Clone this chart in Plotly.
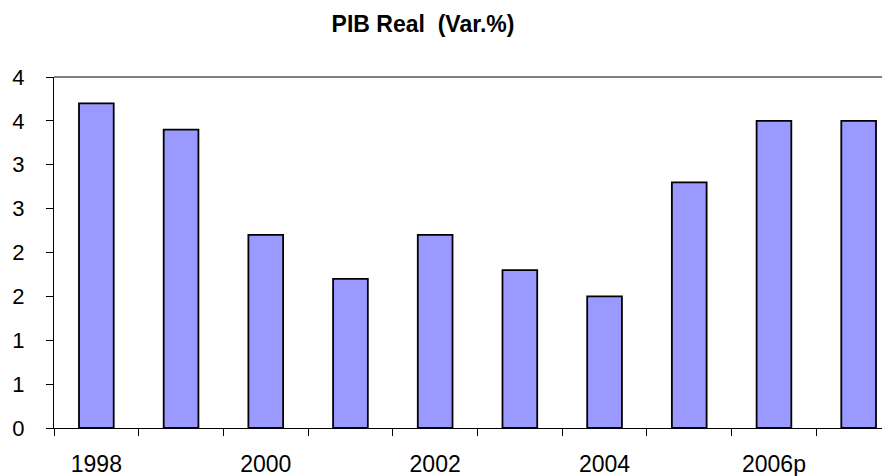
import plotly.graph_objects as go

categories = ["1998", "1999", "2000", "2001", "2002", "2003", "2004", "2005", "2006p", "2007p"]
values = [3.7, 3.4, 2.2, 1.7, 2.2, 1.8, 1.5, 2.8, 3.5, 3.5]
y_tickvals = [0, 0.5, 1, 1.5, 2, 2.5, 3, 3.5, 4]
y_ticktext = ["0", "1", "1", "2", "2", "3", "3", "4", "4"]
x_ticktext = [c if i % 2 == 0 else "" for i, c in enumerate(categories)]
title_text = "<b>PIB Real  (Var.%)</b>"

x_range = [-0.5, 9.37]

# page body has an 8px margin, so the figure is sized to the visible area
W, H = 882, 468

fig = go.Figure()
fig.add_trace(go.Bar(
    x=categories, y=values,
    marker=dict(color="#9999FF", line=dict(color="black", width=1.8)),
    width=0.41,
    showlegend=False,
))

font_family = "Liberation Sans, Arial, sans-serif"

fig.update_layout(
    width=W, height=H,
    margin=dict(l=46, r=0, t=69, b=48),
    paper_bgcolor="white", plot_bgcolor="white",
    font=dict(family=font_family, color="black", size=22),
    title=dict(text=title_text, font=dict(size=23, family=font_family, color="black"),
               x=415/W, xref="container", xanchor="center",
               y=1-16/H, yref="container", yanchor="middle"),
    xaxis=dict(
        type="category", categoryorder="array", categoryarray=categories,
        range=x_range, tickvals=categories, ticktext=x_ticktext,
        tickson="boundaries",
        ticks="outside", ticklen=7, tickcolor="black", tickwidth=1,
        showline=True, linecolor="black", linewidth=1,
        showgrid=False, zeroline=False, ticklabelstandoff=15,
        tickfont=dict(size=23), automargin=False,
    ),
    yaxis=dict(
        range=[0, 4], tickvals=y_tickvals, ticktext=y_ticktext,
        ticks="outside", ticklen=7, tickcolor="black", tickwidth=1,
        showline=True, linecolor="black", linewidth=1,
        showgrid=False, zeroline=False, ticklabelstandoff=17,
        tickfont=dict(size=22), automargin=False,
    ),
    shapes=[dict(type="line", xref="paper", yref="paper", x0=0, x1=1, y0=1, y1=1,
                 line=dict(color="#808080", width=2))],
)

fig.write_html("out.html")
